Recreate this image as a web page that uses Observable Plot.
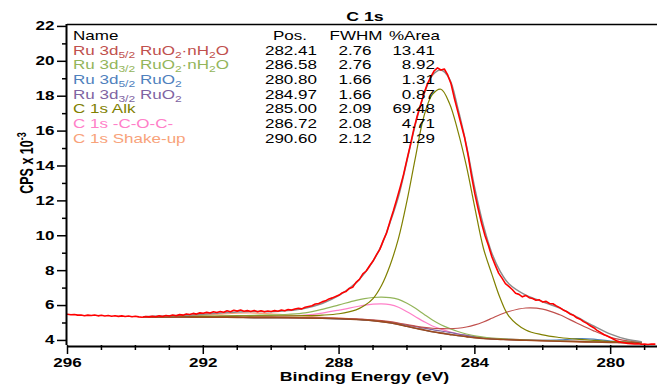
<!DOCTYPE html>
<html><head><meta charset="utf-8">
<script src="https://cdn.jsdelivr.net/npm/d3@7"></script>
<script src="https://cdn.jsdelivr.net/npm/@observablehq/plot@0.6"></script>
<style>body{margin:0;background:#fff;} svg{display:block}</style>
</head><body><div id="chart"></div>
<script>
const FONT = "'Liberation Sans', Arial, Helvetica, sans-serif";
const SX = 1.42; // horizontal stretch of the reference's lettering

// axis ticks
const xTicks = [296, 292, 288, 284, 280];
const xMinorTicks = [295, 294, 293, 291, 290, 289, 287, 286, 285, 283, 282, 281, 279];
const yTicks = [4, 6, 8, 10, 12, 14, 16, 18, 20, 22];
const yMinorTicks = [5, 7, 9, 11, 13, 15, 17, 19, 21];

// measured spectrum (binding energy, CPS x 10^-3)
const measBE = [
296.0,295.9,295.8,295.7,295.6,295.5,295.4,295.3,295.2,295.1,
295.0,294.9,294.8,294.7,294.6,294.5,294.4,294.3,294.2,294.1,
294.0,293.9,293.8,293.7,293.6,293.5,293.4,293.3,293.2,293.1,
293.0,292.9,292.8,292.7,292.6,292.5,292.4,292.3,292.2,292.1,
292.0,291.9,291.8,291.7,291.6,291.5,291.4,291.3,291.2,291.1,
291.0,290.9,290.8,290.7,290.6,290.5,290.4,290.3,290.2,290.1,
290.0,289.9,289.8,289.7,289.6,289.5,289.4,289.3,289.2,289.1,
289.0,288.9,288.8,288.7,288.6,288.5,288.4,288.3,288.2,288.1,
288.0,287.9,287.8,287.7,287.6,287.5,287.4,287.3,287.2,287.1,
287.0,286.9,286.8,286.7,286.6,286.5,286.4,286.3,286.2,286.1,
286.0,285.9,285.8,285.7,285.6,285.5,285.4,285.3,285.2,285.1,
285.0,284.9,284.8,284.7,284.6,284.5,284.4,284.3,284.2,284.1,
284.0,283.9,283.8,283.7,283.6,283.5,283.4,283.3,283.2,283.1,
283.0,282.9,282.8,282.7,282.6,282.5,282.4,282.3,282.2,282.1,
282.0,281.9,281.8,281.7,281.6,281.5,281.4,281.3,281.2,281.1,
281.0,280.9,280.8,280.7,280.6,280.5,280.4,280.3,280.2,280.1,
280.0,279.9,279.8,279.7,279.6,279.5,279.4,279.3,279.2,279.1,
279.0,278.9,278.8,278.7];
const measCPS = [
5.50,5.47,5.49,5.45,5.46,5.42,5.45,5.43,5.46,5.41,
5.44,5.40,5.43,5.39,5.42,5.38,5.41,5.37,5.40,5.36,
5.39,5.35,5.33,5.37,5.35,5.39,5.36,5.41,5.37,5.43,
5.40,5.46,5.42,5.48,5.45,5.52,5.49,5.55,5.51,5.58,
5.56,5.61,5.57,5.64,5.60,5.66,5.62,5.70,5.65,5.73,
5.68,5.74,5.67,5.71,5.66,5.72,5.65,5.70,5.64,5.69,
5.66,5.71,5.67,5.74,5.70,5.77,5.74,5.80,5.84,5.81,
5.90,5.95,5.99,6.09,6.12,6.21,6.27,6.38,6.44,6.52,
6.60,6.74,6.80,6.98,7.05,7.33,7.50,7.82,7.98,8.28,
8.55,8.90,9.22,9.72,10.16,10.82,11.43,12.10,12.78,13.52,
14.38,15.20,16.10,16.85,17.50,18.15,18.70,19.10,19.45,19.62,
19.50,19.56,19.22,18.70,17.85,17.10,16.35,15.60,14.62,13.45,
12.40,11.52,10.70,10.00,9.44,8.80,8.32,7.86,7.57,7.26,
7.10,6.92,6.70,6.64,6.50,6.58,6.45,6.40,6.30,6.33,
6.20,6.24,6.12,6.10,5.98,5.88,5.75,5.66,5.52,5.45,
5.30,5.22,5.08,4.98,4.84,4.73,4.58,4.46,4.34,4.25,
4.16,4.05,3.96,3.90,3.87,3.83,3.82,3.80,3.81,3.78,
3.79,3.77,3.80,3.79];

// fitted curves, read at these binding energies
const fitBE = [293.75,293.5,293,292.5,292,291.5,291,290.5,290,289.5,289,288.5,288,287.5,287.25,287,286.75,286.5,286.25,286,
285.75,285.5,285.25,285,284.75,284.5,284.25,284,283.75,283.5,283.25,283,282.5,282,281.5,281,280.5,280,279.5,279.1];
const background = [5.34,5.34,5.34,5.34,5.33,5.33,5.32,5.31,5.31,5.30,5.29,5.27,5.24,5.20,5.17,5.13,5.08,5.01,4.92,4.81,
4.70,4.60,4.50,4.42,4.35,4.28,4.22,4.16,4.11,4.08,4.06,4.04,4.01,3.98,3.95,3.93,3.91,3.89,3.87,3.86];
const ruHydr52 = [5.35,5.35,5.35,5.35,5.34,5.34,5.33,5.33,5.32,5.31,5.31,5.29,5.27,5.24,5.21,5.18,5.14,5.08,5.00,4.91,
4.82,4.75,4.70,4.68,4.67,4.70,4.77,4.89,5.06,5.27,5.49,5.66,5.86,5.80,5.47,5.00,4.55,4.18,3.98,3.90];
const ruHydr32 = [5.36,5.36,5.37,5.38,5.39,5.40,5.42,5.44,5.46,5.50,5.58,5.78,6.04,6.30,6.40,6.46,6.48,6.45,6.35,6.13,
5.84,5.50,5.17,4.90,4.69,4.51,4.37,4.26,4.19,4.14,4.10,4.07,4.03,4.00,3.97,3.95,3.92,3.90,3.88,3.87];
const ruO2_52 = [5.34,5.34,5.34,5.34,5.33,5.33,5.32,5.31,5.31,5.30,5.29,5.27,5.24,5.20,5.17,5.13,5.08,5.01,4.92,4.81,
4.70,4.60,4.50,4.42,4.35,4.28,4.22,4.16,4.12,4.09,4.07,4.06,4.02,4.01,4.03,4.10,4.08,3.96,3.90,3.87];
const ruO2_32 = [5.34,5.34,5.34,5.34,5.33,5.33,5.32,5.31,5.31,5.30,5.29,5.28,5.25,5.21,5.19,5.15,5.11,5.05,4.97,4.88,
4.79,4.71,4.62,4.54,4.46,4.37,4.29,4.21,4.14,4.10,4.07,4.05,4.02,3.99,3.96,3.94,3.92,3.90,3.88,3.87];
const c1sAlk = [5.36,5.36,5.37,5.38,5.38,5.39,5.40,5.40,5.41,5.41,5.42,5.45,5.53,5.75,6.00,6.40,7.15,8.30,9.85,12.00,
14.50,16.85,18.10,18.40,17.60,16.00,14.00,11.60,9.30,7.80,6.40,5.40,4.60,4.32,4.17,4.07,4.00,3.94,3.90,3.88];
const c1sCOC = [5.35,5.35,5.35,5.35,5.35,5.35,5.35,5.36,5.37,5.39,5.45,5.57,5.74,5.93,6.02,6.08,6.10,6.05,5.90,5.64,
5.36,5.08,4.83,4.65,4.50,4.38,4.29,4.22,4.16,4.12,4.09,4.07,4.03,4.00,3.97,3.95,3.92,3.90,3.88,3.87];
const c1sShake = [5.35,5.36,5.38,5.41,5.45,5.51,5.56,5.57,5.53,5.46,5.39,5.33,5.28,5.22,5.18,5.14,5.08,5.01,4.92,4.81,
4.70,4.60,4.50,4.42,4.35,4.28,4.22,4.16,4.11,4.08,4.06,4.04,4.01,3.98,3.95,3.93,3.91,3.89,3.87,3.86];
const envelope = [5.36,5.38,5.41,5.45,5.50,5.57,5.63,5.66,5.65,5.71,5.85,6.12,6.58,7.30,7.85,8.55,9.45,10.75,12.25,14.30,
16.40,18.10,19.20,19.50,19.00,17.30,15.20,12.70,10.60,9.00,7.95,7.25,6.60,6.22,5.85,5.35,4.83,4.36,4.05,3.93];

// component table
const names = ["Ru 3d_{5/2} RuO_{2}·nH_{2}O", "Ru 3d_{3/2} RuO_{2}·nH_{2}O", "Ru 3d_{5/2} RuO_{2}",
  "Ru 3d_{3/2} RuO_{2}", "C 1s Alk", "C 1s -C-O-C-", "C 1s Shake-up"];
const colors = ["#c0504d", "#93b55a", "#4f81bd", "#8064a2", "#808000", "#ff80c8", "#f8a27a"];
const positions = ["282.41", "286.58", "280.80", "284.97", "285.00", "286.72", "290.60"];
const fwhms = ["2.76", "2.76", "1.66", "1.66", "2.09", "2.08", "2.12"];
const areas = ["13.41", "8.92", "1.31", "0.87", "69.48", "4.71", "1.29"];
const componentSeries = [ruHydr52, ruHydr32, ruO2_52, ruO2_32, c1sAlk, c1sCOC, c1sShake];

const rows = ys => fitBE.map((be, i) => ({be, cps: ys[i]}));
const measured = measBE.map((be, i) => ({be, cps: measCPS[i]}));
const drawOrder = [6, 5, 3, 2, 1, 0, 4];

const xLo = 278.62, xHi = 296, yLo = 3.71, yHi = 22.11;

const chart = Plot.plot({
  width: 657, height: 385,
  marginLeft: 67, marginRight: 0, marginTop: 24, marginBottom: 40,
  x: {domain: [xHi, xLo]},
  y: {domain: [yLo, yHi]},
  style: {fontFamily: FONT, fontSize: "12px", background: "#fff", color: "#000", overflow: "visible"},
  marks: [
    ...drawOrder.map(k => Plot.line(rows(componentSeries[k]), {x: "be", y: "cps", stroke: colors[k], strokeWidth: 1.2, curve: "catmull-rom"})),
    Plot.line(rows(background), {x: "be", y: "cps", stroke: "#9c4a1e", strokeWidth: 1.6, curve: "catmull-rom"}),
    Plot.line(rows(envelope), {x: "be", y: "cps", stroke: "#8c8c8c", strokeWidth: 1.5, curve: "catmull-rom"}),
    Plot.line(measured, {x: "be", y: "cps", stroke: "#ff0000", strokeWidth: 1.6}),
    Plot.ruleY([yLo], {stroke: "#000", strokeWidth: 2, dy: 1}),
    Plot.ruleY([yHi], {stroke: "#000", strokeWidth: 1.5}),
    Plot.ruleX([xHi], {stroke: "#000", strokeWidth: 2, dx: -1}),
    Plot.axisX(xTicks, {anchor: "bottom", tickSize: 9, tickPadding: 4, strokeWidth: 1.5, fontWeight: "bold", fontSize: 12, label: null, tickFormat: d => String(d)}),
    Plot.axisX(xMinorTicks, {anchor: "bottom", tickSize: 5, strokeWidth: 1.5, label: null, tickFormat: () => ""}),
    Plot.axisY(yTicks, {anchor: "left", tickSize: 10, tickPadding: 3, strokeWidth: 1.5, fontWeight: "bold", fontSize: 12, label: null, tickFormat: d => String(d)}),
    Plot.axisY(yMinorTicks, {anchor: "left", tickSize: 5, strokeWidth: 1.5, label: null, tickFormat: () => ""})
  ]
});
document.getElementById("chart").append(chart);

// stretch Plot's own lettering horizontally about each label's anchor point
chart.querySelectorAll("text").forEach(t => {
  const tr = t.getAttribute("transform") || "";
  const x = t.getAttribute("x");
  let pre = "";
  if (x !== null && /^-?[\d.]+$/.test(x.trim()) && +x !== 0) {
    pre = `translate(${+x},0) `;
    t.removeAttribute("x");
  }
  t.setAttribute("transform", `${tr} ${pre}scale(${SX},1)`.trim());
});

const svg = d3.select(chart);
const ann = svg.append("g").attr("font-family", FONT).attr("fill", "#000");
const place = (sel, x, y, anchor) =>
  sel.attr("text-anchor", anchor).attr("transform", `translate(${x},${y}) scale(${SX},1)`);

// title and axis titles
place(ann.append("text"), 365, 20.5, "middle").attr("font-weight", "bold").attr("font-size", 12.5).text("C 1s");
place(ann.append("text"), 364.5, 381, "middle").attr("font-weight", "bold").attr("font-size", 12.5).text("Binding Energy (eV)");
const yl = ann.append("text").attr("text-anchor", "middle")
  .attr("font-weight", "bold").attr("font-size", 12.5)
  .attr("transform", `translate(33,163) scale(${SX},1) rotate(-90)`);
yl.append("tspan").text("CPS x 10");
yl.append("tspan").attr("dy", -5).attr("font-size", 9).text("-3");

// component table
function rich(sel, str) {
  const parts = str.split(/(_\{[^}]*\})/).filter(s => s.length);
  let down = false;
  parts.forEach(p => {
    if (p.startsWith("_{")) {
      sel.append("tspan").attr("dy", 3).attr("font-size", 8.5).text(p.slice(2, -1));
      down = true;
    } else {
      sel.append("tspan").attr("dy", down ? -3 : 0).text(p);
      down = false;
    }
  });
}
const tab = ann.append("g").attr("font-size", 12);
const base0 = 40, step = 14.65;
place(tab.append("text"), 73, base0, "start").text("Name");
place(tab.append("text"), 290, base0, "middle").text("Pos.");
place(tab.append("text"), 356, base0, "middle").text("FWHM");
place(tab.append("text"), 414.5, base0, "middle").text("%Area");
names.forEach((n, i) => {
  const y = base0 + step * (i + 1);
  rich(place(tab.append("text"), 73, y, "start").attr("fill", colors[i]), n);
  place(tab.append("text"), 317, y, "end").text(positions[i]);
  place(tab.append("text"), 355, y, "middle").text(fwhms[i]);
  place(tab.append("text"), 435, y, "end").text(areas[i]);
});
</script></body></html>
